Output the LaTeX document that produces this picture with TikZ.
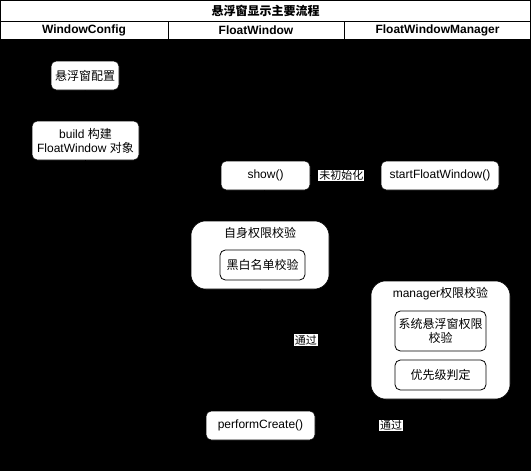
\documentclass[tikz,border=0pt]{standalone}
\usepackage{fontspec}
\setmainfont{Liberation Sans}
\newfontfamily\cjk{Noto Sans CJK SC}
\usetikzlibrary{math}
\usetikzlibrary{arrows}

\tikzset{
  stepbox/.style={draw=black, fill=white, rounded corners=4pt, align=center, inner sep=0pt,
    font=\fontsize{9}{10.5}\selectfont},
  groupbox/.style={draw=black, fill=white, rounded corners=11pt, inner sep=0pt},
  checkbox/.style={draw=black, fill=white, rounded corners=4pt, align=center, inner sep=0pt,
    line width=0.6pt, font=\fontsize{9}{10.5}\selectfont},
  grouptitle/.style={inner sep=0pt, font=\fontsize{9}{10.5}\selectfont},
  headcell/.style={draw=black, fill=white, line width=0.6pt},
  flow/.style={draw=black, ->, >=triangle 45},
  passlabel/.style={fill=white, inner sep=0.6pt, font=\fontsize{8.25}{9}\selectfont}
}

\begin{document}
\begin{tikzpicture}[x=0.75pt,y=-0.75pt]
%%%% background
\tikzmath{
\w = 531;
\h = 471;
\ca = 168;
\cb = 344;
}
\fill[black] (0,0) rectangle (\w,\h);
\useasboundingbox (0,0) rectangle (\w,\h);
%%%%%% title and lanes
\draw[headcell] (0.5,0.5) rectangle (\w-0.5,21);
\draw[headcell] (0.5,21) rectangle (\ca,39);
\draw[headcell] (\ca,21) rectangle (\cb,39);
\draw[headcell] (\cb,21) rectangle (\w-0.5,39);
\node[font=\fontsize{9}{10.5}\selectfont\bfseries] (title) at (\w/2,11) {\cjk 悬浮窗显示主要流程};
\node[font=\fontsize{9}{10.5}\selectfont\bfseries] (lanecfg) at (84,30.5) {WindowConfig};
\node[font=\fontsize{9}{10.5}\selectfont\bfseries] (lanewin) at (256,30.5) {FloatWindow};
\node[font=\fontsize{9}{10.5}\selectfont\bfseries] (lanemgr) at (437.5,30.5) {FloatWindowManager};
%%%%%% WindowConfig lane
\node[stepbox, minimum width=51pt, minimum height=21.75pt] (cfg) at (85,75.5) {\cjk 悬浮窗配置};
\node[stepbox, minimum width=80.25pt, minimum height=29.25pt] (build) at (85.5,140.5)
  {build {\cjk 构建}\\FloatWindow {\cjk 对象}};
%%%%%% FloatWindow lane
\node[stepbox, minimum width=66.75pt, minimum height=21.75pt] (show) at (265.5,175.5) {show()};
\node[groupbox, minimum width=103.5pt, minimum height=51pt] (selfchk) at (260,255) {};
\node[grouptitle] (selfchktitle) at (260,233) {\cjk 自身权限校验};
\node[checkbox, minimum width=63.75pt, minimum height=22.5pt] (blacklist) at (262.5,265) {\cjk 黑白名单校验};
\node[stepbox, minimum width=81.75pt, minimum height=21.75pt] (perform) at (260.5,425.5) {performCreate()};
%%%%%% FloatWindowManager lane
\node[stepbox, minimum width=88.5pt, minimum height=21.75pt] (start) at (440,175.5) {startFloatWindow()};
\node[groupbox, minimum width=104.25pt, minimum height=88.5pt] (mgr) at (440.5,340) {};
\node[grouptitle] (mgrtitle) at (440.5,294) {manager{\cjk 权限校验}};
\node[checkbox, minimum width=68.25pt, minimum height=30pt] (syschk) at (440.5,331) {\cjk 系统悬浮窗权限\\\cjk 校验};
\node[checkbox, minimum width=68.25pt, minimum height=22.5pt] (priority) at (440.5,375) {\cjk 优先级判定};
%%%%%% flow
\draw[flow] (cfg) -- (build);
\draw[flow] (build.south) |- (show.west);
\draw[flow] (show) -- node[passlabel, pos=0.44] {\cjk 未初始化} (start);
\draw[flow] (show) -- (selfchk);
\draw[flow] (selfchk.south) |- node[passlabel, pos=0.707] {\cjk 通过} (mgr.west);
\draw[flow] (mgr.south) |- node[passlabel, pos=0.697] {\cjk 通过} (perform.east);
\end{tikzpicture}
\end{document}
